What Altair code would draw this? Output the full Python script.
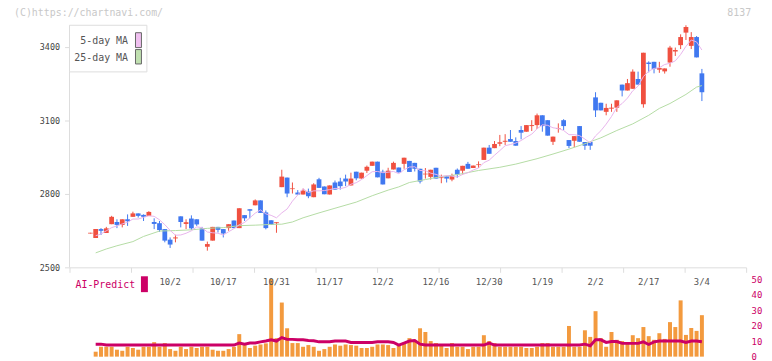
import altair as alt
import pandas as pd

# ---------------- data ----------------
opens = [2638, 2620, 2656, 2640, 2676, 2685, 2673, 2696, 2706, 2720,
         2714, 2710, 2685, 2680, 2656, 2613, 2618, 2708, 2677, 2699,
         2696, 2659, 2584, 2609, 2665, 2656, 2660, 2691, 2660, 2713,
         2737, 2753, 2773, 2724, 2692, 2680, 2827, 2866, 2819, 2805,
         2797, 2809, 2786, 2859, 2830, 2797, 2846, 2850, 2862, 2834,
         2890, 2862, 2894, 2914, 2931, 2890, 2863, 2899, 2907, 2922,
         2934, 2926, 2902, 2879, 2869, 2906, 2864, 2871, 2858, 2898,
         2894, 2922, 2905, 2917, 2938, 2988, 2986, 3004, 3012, 3023,
         3015, 3060, 3053, 3076, 3080, 3120, 3100, 3012, 3064, 3100,
         3019, 3016, 3076, 3011, 3011, 3193, 3171, 3134, 3147, 3151,
         3245, 3221, 3228, 3268, 3165, 3335, 3338, 3306, 3299, 3335,
         3380, 3406, 3457, 3403, 3439, 3291]
closes = [2641, 2656, 2649, 2659, 2706, 2673, 2696, 2688, 2720, 2710,
          2706, 2726, 2677, 2652, 2609, 2593, 2622, 2685, 2684, 2659,
          2675, 2609, 2595, 2665, 2653, 2638, 2676, 2660, 2741, 2700,
          2731, 2773, 2722, 2660, 2673, 2684, 2870, 2801, 2822, 2797,
          2813, 2790, 2838, 2824, 2798, 2834, 2817, 2831, 2850, 2862,
          2863, 2886, 2910, 2931, 2867, 2838, 2894, 2926, 2887, 2947,
          2889, 2902, 2850, 2882, 2898, 2862, 2867, 2862, 2875, 2878,
          2914, 2902, 2915, 2920, 2988, 2963, 3003, 3010, 3016, 3012,
          2996, 3049, 3080, 3080, 3120, 3076, 3037, 3033, 3067, 3076,
          2995, 3035, 3012, 2996, 2996, 3140, 3140, 3150, 3151, 3181,
          3221, 3251, 3298, 3245, 3375, 3329, 3309, 3313, 3311, 3396,
          3386, 3439, 3480, 3439, 3356, 3214]
highs = [2641, 2656, 2660, 2665, 2710, 2696, 2696, 2716, 2727, 2720,
         2716, 2729, 2700, 2689, 2656, 2622, 2633, 2708, 2696, 2712,
         2696, 2665, 2605, 2665, 2665, 2656, 2676, 2691, 2741, 2713,
         2737, 2777, 2773, 2732, 2692, 2684, 2898, 2866, 2846, 2815,
         2821, 2821, 2843, 2865, 2830, 2834, 2854, 2865, 2878, 2886,
         2890, 2886, 2915, 2931, 2931, 2898, 2906, 2931, 2907, 2947,
         2934, 2926, 2902, 2905, 2898, 2906, 2878, 2871, 2882, 2903,
         2914, 2930, 2915, 2932, 2988, 2999, 3015, 3040, 3043, 3060,
         3030, 3076, 3080, 3100, 3127, 3120, 3100, 3033, 3087, 3104,
         3019, 3035, 3076, 3011, 3011, 3214, 3171, 3167, 3167, 3181,
         3245, 3268, 3307, 3298, 3375, 3340, 3338, 3338, 3311, 3403,
         3396, 3450, 3487, 3459, 3443, 3309]
lows = [2638, 2620, 2632, 2640, 2676, 2660, 2663, 2669, 2706, 2703,
        2689, 2710, 2656, 2645, 2602, 2579, 2602, 2663, 2656, 2653,
        2669, 2609, 2568, 2609, 2642, 2622, 2649, 2660, 2660, 2689,
        2700, 2753, 2722, 2655, 2673, 2641, 2827, 2786, 2801, 2797,
        2797, 2782, 2786, 2824, 2798, 2797, 2817, 2817, 2831, 2834,
        2855, 2862, 2885, 2914, 2867, 2838, 2863, 2899, 2887, 2902,
        2889, 2891, 2842, 2862, 2858, 2862, 2843, 2846, 2851, 2865,
        2878, 2902, 2905, 2905, 2938, 2963, 2986, 2994, 2999, 3012,
        2996, 3022, 3053, 3056, 3064, 3053, 3037, 2999, 3049, 3060,
        2986, 2990, 3012, 2979, 2979, 3113, 3140, 3120, 3134, 3134,
        3197, 3221, 3228, 3245, 3151, 3295, 3291, 3293, 3290, 3318,
        3362, 3390, 3427, 3390, 3356, 3178]
ma5 = [None, 2629, 2636, 2649, 2662, 2669, 2677, 2684, 2697, 2697,
       2704, 2710, 2708, 2694, 2674, 2651, 2631, 2632, 2639, 2649,
       2665, 2662, 2644, 2641, 2639, 2632, 2645, 2658, 2674, 2683,
       2702, 2721, 2734, 2718, 2712, 2702, 2722, 2738, 2770, 2795,
       2821, 2805, 2812, 2812, 2813, 2817, 2822, 2821, 2826, 2839,
       2845, 2858, 2874, 2890, 2891, 2886, 2888, 2891, 2882, 2898,
       2909, 2910, 2895, 2894, 2884, 2879, 2871, 2874, 2872, 2868,
       2879, 2886, 2897, 2905, 2927, 2937, 2957, 2976, 2996, 3001,
       3007, 3017, 3031, 3043, 3065, 3081, 3079, 3069, 3066, 3058,
       3041, 3041, 3037, 3023, 3007, 3036, 3057, 3084, 3115, 3152,
       3168, 3190, 3220, 3239, 3278, 3300, 3311, 3314, 3327, 3332,
       3342, 3368, 3401, 3427, 3419, 3386]
ma25_idx = [1, 3, 5, 8, 10, 13, 16, 19, 22, 25, 28, 31, 34, 36, 38, 40, 43, 46,
            50, 53, 56, 58, 60, 63, 66, 69, 73, 77, 80, 84, 87, 90, 93, 96, 99,
            102, 105, 107, 109, 112, 114, 115]
ma25_val = [2559, 2575, 2588, 2605, 2626, 2648, 2650, 2653, 2659, 2662, 2670,
            2672, 2675, 2676, 2685, 2702, 2722, 2741, 2766, 2792, 2815, 2828,
            2846, 2858, 2870, 2878, 2895, 2908, 2921, 2943, 2962, 2982, 3004,
            3028, 3058, 3085, 3120, 3148, 3168, 3205, 3235, 3241]
volumes = [None, 3.2, 6.4, 6.4, 6.4, 4.5, 3.8, 6.4, 5.6, 4.5, 6.4,
           6.4, 9.4, 6.4, 8.8, 4.9, 3.8, 6.4, 4.9, 6.4, 5.6,
           6.4, 6.4, 4.5, 3.8, 3.8, 4.9, 6.4, 14.6, 7.5, 5.6,
           7.1, 7.9, 8.6, 50.4, 12.0, 35.1, 18.4, 8.8, 8.8, 6.4,
           7.5, 6.4, 3.8, 4.9, 6.4, 7.9, 7.1, 7.9, 7.5, 7.1,
           5.6, 5.6, 6.4, 7.9, 7.9, 7.5, 5.6, 7.9, 9.0, 12.0,
           10.5, 18.4, 16.0, 10.1, 8.8, 7.5, 5.6, 8.8, 6.4, 6.4,
           4.9, 6.4, 6.4, 13.9, 10.1, 8.8, 6.4, 6.4, 6.4, 6.4,
           6.4, 5.6, 5.6, 6.4, 8.8, 8.8, 6.4, 6.4, 6.4, 19.9,
           6.4, 6.4, 17.1, 12.8, 29.5, 12.0, 6.4, 16.0, 10.9, 10.1,
           8.8, 13.9, 12.0, 19.2, 13.3, 10.9, 15.2, 11.5, 22.4, 19.2,
           36.5, 14.1, 18.6, 16.7, 26.9]
ai_pred = [None, 8.1, 8.1, 7.5, 7.5, 7.5, 7.5, 7.5, 7.5, 7.5, 7.5,
           7.5, 7.5, 7.5, 7.5, 7.5, 7.5, 7.5, 7.5, 7.5, 7.5,
           7.5, 7.5, 7.5, 7.5, 7.5, 7.5, 7.5, 8.8, 8.1, 8.8,
           8.8, 9.6, 10.1, 10.9, 10.1, 12.4, 11.2, 11.2, 10.9, 10.9,
           10.5, 10.3, 9.6, 9.6, 9.6, 10.1, 10.1, 10.1, 9.2, 9.2,
           9.2, 9.2, 9.2, 9.6, 9.6, 9.6, 9.2, 7.5, 8.8, 10.1,
           10.5, 8.1, 7.5, 7.5, 7.5, 7.5, 7.5, 7.5, 7.5, 7.5,
           7.5, 7.5, 7.5, 7.5, 8.8, 7.5, 7.5, 7.5, 7.5, 7.5,
           7.5, 7.5, 7.5, 7.5, 7.5, 7.5, 7.5, 7.5, 7.5, 7.5,
           7.5, 7.5, 8.1, 7.1, 10.9, 10.9, 9.2, 9.8, 9.8, 8.6,
           8.6, 8.6, 8.6, 9.6, 7.9, 9.6, 10.1, 10.1, 10.1, 10.1,
           10.1, 9.2, 10.1, 10.1, 9.6]
tick_labels = ["10/2", "10/17", "10/31", "11/17", "12/2", "12/16", "12/30",
               "1/19", "2/2", "2/17", "3/4"]
tick_label_idx = [15, 25, 35, 45, 55, 65, 75, 85, 95, 105, 115]
price_ticks = [2500, 2800, 3100, 3400]
vol_ticks = [0, 10, 20, 30, 40, 50]

# ---------------- styling ----------------
RED = "#f05040"
BLUE = "#4078f0"
ORANGE = "#f39a3e"
MAGENTA = "#cc0066"
PINK = "#e8b4ec"
GREEN = "#b4dca4"
PINK_SW = "#f0c0f0"
GREEN_SW = "#c0e0b0"
AX = "#dddddd"
MONO = "DejaVu Sans Mono"

W, H = 682, 334
X_LO, X_HI = -3.92, 123.32
P_LO, P_HI = 2136, 3487
V_HI = 215

n = len(closes)
df = pd.DataFrame({
    "i": list(range(n)), "open": opens, "high": highs, "low": lows,
    "close": closes, "ma5": ma5, "vol": volumes, "ai": ai_pred,
})
df["dir"] = ["up" if c >= o else "down" for o, c in zip(opens, closes)]
df25 = pd.DataFrame({"i": ma25_idx, "ma25": ma25_val})
dfl = pd.DataFrame({"i": tick_label_idx, "label": tick_labels})
one = pd.DataFrame({"k": [0]})

grid_vals = [X_LO + k * (X_HI - X_LO) / 11 for k in range(12)]
xs = alt.Scale(domain=[X_LO, X_HI], nice=False, zero=False, padding=0)
ps = alt.Scale(domain=[P_LO, P_HI], nice=False, zero=False, padding=0)
vs = alt.Scale(domain=[0, V_HI], nice=False, zero=False, padding=0)

x_axis = alt.Axis(values=grid_vals, labels=False, ticks=True, tickSize=5,
                  tickColor=AX, domainColor=AX, offset=-90, grid=False, title=None)
p_axis = alt.Axis(values=price_ticks, format="d", domain=False, ticks=True, tickSize=5,
                  tickColor=AX, labelColor="#444", labelFont=MONO, labelFontSize=8.5,
                  labelPadding=5, grid=False, title=None)
v_axis = alt.Axis(orient="right", values=vol_ticks, domain=False, ticks=False,
                  labelColor=MAGENTA, labelFont=MONO, labelFontSize=9,
                  labelPadding=5, grid=False, title=None)

x_enc = alt.X("i:Q", scale=xs, axis=x_axis)
col = alt.Color("dir:N", scale=alt.Scale(domain=["up", "down"], range=[RED, BLUE]), legend=None)

wick = alt.Chart(df).mark_rule(strokeWidth=1).encode(
    x=x_enc, y=alt.Y("low:Q", scale=ps, axis=p_axis), y2="high:Q", color=col)
body = alt.Chart(df).mark_bar(size=4.8).encode(
    x=x_enc, y=alt.Y("open:Q", scale=ps, axis=p_axis), y2="close:Q", color=col)
ma5_line = alt.Chart(df).mark_line(strokeWidth=1, color=PINK).encode(
    x=x_enc, y=alt.Y("ma5:Q", scale=ps, axis=p_axis))
ma25_line = alt.Chart(df25).mark_line(strokeWidth=1, color=GREEN).encode(
    x=x_enc, y=alt.Y("ma25:Q", scale=ps, axis=p_axis))
price = alt.layer(wick, body, ma25_line, ma5_line)

vol_bar = alt.Chart(df).mark_bar(size=4, color=ORANGE).encode(
    x=x_enc, y=alt.Y("vol:Q", scale=vs, axis=v_axis))
ai_line = alt.Chart(df).mark_line(strokeWidth=3, color=MAGENTA).encode(
    x=x_enc, y=alt.Y("ai:Q", scale=vs, axis=v_axis))
vol = alt.layer(vol_bar, ai_line)

date_lbl = alt.Chart(dfl).mark_text(font=MONO, fontSize=9, color="#555", baseline="middle").encode(
    x=x_enc, y=alt.value(259), text="label:N")

deco = []
deco.append(alt.Chart(one).mark_rule(color=AX).encode(x=alt.value(0), y=alt.value(0), y2=alt.value(244)))
deco.append(alt.Chart(one).mark_rect(fill="white", stroke=AX, strokeWidth=1).encode(
    x=alt.value(0), x2=alt.value(78), y=alt.value(0), y2=alt.value(47)))
deco.append(alt.Chart(one).mark_text(align="right", baseline="middle", font=MONO, fontSize=10, color="#555").encode(
    x=alt.value(59), y=alt.value(16), text=alt.value("5-day MA")))
deco.append(alt.Chart(one).mark_text(align="right", baseline="middle", font=MONO, fontSize=10, color="#555").encode(
    x=alt.value(59), y=alt.value(33), text=alt.value("25-day MA")))
deco.append(alt.Chart(one).mark_rect(fill=PINK_SW, stroke="#666", strokeWidth=1).encode(
    x=alt.value(66.5), x2=alt.value(72.5), y=alt.value(7.5), y2=alt.value(22.5)))
deco.append(alt.Chart(one).mark_rect(fill=GREEN_SW, stroke="#666", strokeWidth=1).encode(
    x=alt.value(66.5), x2=alt.value(72.5), y=alt.value(24.5), y2=alt.value(39)))
deco.append(alt.Chart(one).mark_text(align="left", baseline="middle", font=MONO, fontSize=10, color="#c8c8c8").encode(
    x=alt.value(-56), y=alt.value(-12), text=alt.value("(C)https://chartnavi.com/")))
deco.append(alt.Chart(one).mark_text(align="right", baseline="middle", font=MONO, fontSize=10, color="#c8c8c8").encode(
    x=alt.value(687), y=alt.value(-12), text=alt.value("8137")))
deco.append(alt.Chart(one).mark_text(align="left", baseline="middle", font=MONO, fontSize=10, color=MAGENTA).encode(
    x=alt.value(6), y=alt.value(262), text=alt.value("AI-Predict")))
deco.append(alt.Chart(one).mark_rect(fill=MAGENTA).encode(
    x=alt.value(72), x2=alt.value(79), y=alt.value(253), y2=alt.value(269)))

chart = alt.layer(vol, price, date_lbl, *deco).resolve_scale(y="independent").properties(
    width=W, height=H,
    padding={"left": 62, "top": 16, "right": 18, "bottom": 4},
    autosize=alt.AutoSizeParams(type="none"),
).configure_view(stroke=None)

chart.save("out.html", embed_options={"renderer": "svg", "actions": False})
